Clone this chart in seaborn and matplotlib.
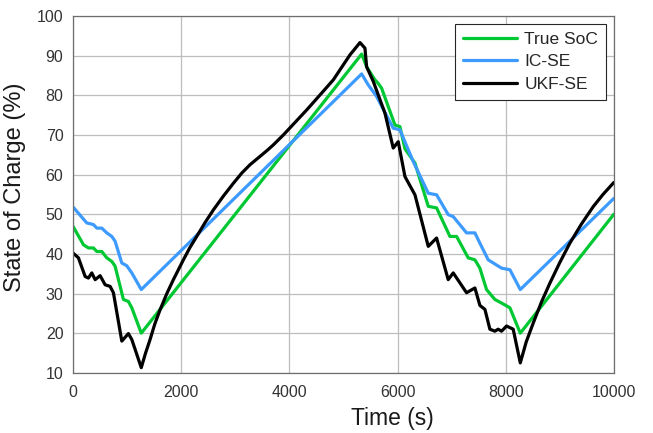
import matplotlib
matplotlib.use("Agg")
import matplotlib.pyplot as plt
import seaborn as sns
import pandas as pd

sns.set_style("whitegrid")
plt.rcParams["font.family"] = ["Liberation Sans", "DejaVu Sans"]

# values
true_t = [0, 191, 283, 375, 438, 530, 622, 715, 776, 930, 1022, 1085, 1260,
          5336, 5428, 5582, 5643, 5705, 5952, 6044, 6137, 6322, 6568, 6722,
          6969, 7092, 7307, 7431, 7523, 7646, 7800, 7924, 8078, 8270, 10000]
true_soc = [46.9, 42.3, 41.5, 41.5, 40.6, 40.6, 39.0, 38.1, 36.9, 28.5, 28.0, 26.4, 20.0,
            90.4, 87.2, 83.9, 83.0, 81.8, 72.5, 72.1, 66.5, 62.9, 52.0, 51.6,
            44.4, 44.4, 39.0, 38.5, 36.4, 31.0, 28.5, 27.6, 26.4, 20.0, 50.0]

ic_t = [0, 253, 375, 438, 530, 622, 715, 776, 900, 992, 1085, 1260,
        5336, 5459, 5551, 5613, 5920, 6044, 6290, 6568, 6722, 6937, 7030,
        7276, 7431, 7523, 7677, 7924, 8078, 8270, 10000]
ic_soc = [51.8, 47.8, 47.4, 46.5, 46.5, 45.3, 44.4, 43.2, 37.7, 37.0, 35.2, 31.0,
          85.4, 82.6, 80.9, 79.7, 71.7, 71.3, 63.3, 55.3, 54.9, 49.9, 49.4,
          45.3, 45.3, 42.7, 38.5, 36.4, 36.0, 31.0, 54.0]

ukf_t = [0, 98, 222, 283, 345, 407, 499, 592, 684, 745, 900, 1022, 1085, 1260,
         1340, 1423, 1510, 1608, 1730, 1854, 2039, 2160, 2286, 2440, 2594, 2780,
         2963, 3120, 3272, 3457, 3580, 3703, 3888, 4100, 4319, 4560, 4812, 5120,
         5305, 5397, 5428, 5551, 5643, 5767, 5920, 6013, 6137, 6322,
         6568, 6722, 6937, 7030, 7276, 7431, 7523, 7616, 7708, 7800, 7860, 7924,
         8016, 8139, 8270, 8380, 8508, 8660, 8817, 9000, 9187, 9400, 9618, 9800, 10000]
ukf_soc = [40.2, 39.0, 34.3, 33.9, 35.2, 33.5, 34.5, 32.2, 31.8, 30.2, 18.0, 19.9, 18.4, 11.3,
           15.0, 18.4, 22.3, 25.9, 29.9, 33.5, 38.5, 41.6, 44.4, 47.9, 51.1, 54.6,
           57.8, 60.4, 62.5, 64.6, 66.0, 67.5, 70.0, 73.1, 76.3, 80.0, 83.9, 90.2,
           93.3, 91.9, 87.2, 83.5, 80.1, 75.5, 66.7, 68.3, 59.5, 54.9,
           41.9, 44.0, 33.5, 35.2, 30.2, 31.4, 27.0, 26.0, 21.0, 20.5, 21.0, 20.5,
           21.8, 21.0, 12.5, 17.8, 22.5, 27.8, 32.6, 37.8, 42.7, 47.5, 51.9, 55.0, 58.0]

names = ["True SoC", "IC-SE", "UKF-SE"]
colors = ["#00c832", "#3d9bff", "#000000"]

df = pd.concat([
    pd.DataFrame({"t": true_t, "soc": true_soc, "est": names[0]}),
    pd.DataFrame({"t": ic_t, "soc": ic_soc, "est": names[1]}),
    pd.DataFrame({"t": ukf_t, "soc": ukf_soc, "est": names[2]}),
])

fig = plt.figure(figsize=(6.53, 4.33), dpi=100)
ax = fig.add_axes([0.112, 0.139, 0.828, 0.824])
sns.lineplot(data=df, x="t", y="soc", hue="est", hue_order=names,
             palette=dict(zip(names, colors)), sort=False, estimator=None,
             linewidth=2.3, ax=ax)

ax.set_xlim(0, 10000)
ax.set_ylim(10, 100)
ax.set_xticks(range(0, 10001, 2000))
ax.set_yticks(range(10, 101, 10))
ax.grid(True, color="#bdbdbd", linewidth=0.9)
for s in ax.spines.values():
    s.set_color("#6e6e6e")
    s.set_linewidth(0.9)
ax.tick_params(labelsize=11.5, colors="#333333", length=3, direction="in",
               width=0.8, pad=7)
ax.tick_params(axis="x", pad=9)
ax.set_xlabel("Time (s)", fontsize=16.5, color="#1a1a1a")
ax.set_ylabel("State of Charge (%)", fontsize=17, color="#1a1a1a")
ax.xaxis.set_label_coords(0.59, -0.095)
ax.yaxis.set_label_coords(-0.088, 0.52)

leg = ax.legend(loc="upper right", fontsize=12.5, frameon=True, fancybox=False,
                edgecolor="#262626", framealpha=1, handlelength=3.1,
                borderpad=0.45, labelspacing=0.42, handletextpad=0.45,
                borderaxespad=0.45)
leg.get_frame().set_linewidth(0.8)
for line in leg.get_lines():
    line.set_linewidth(2.3)

fig.savefig("out.png", dpi=100)
